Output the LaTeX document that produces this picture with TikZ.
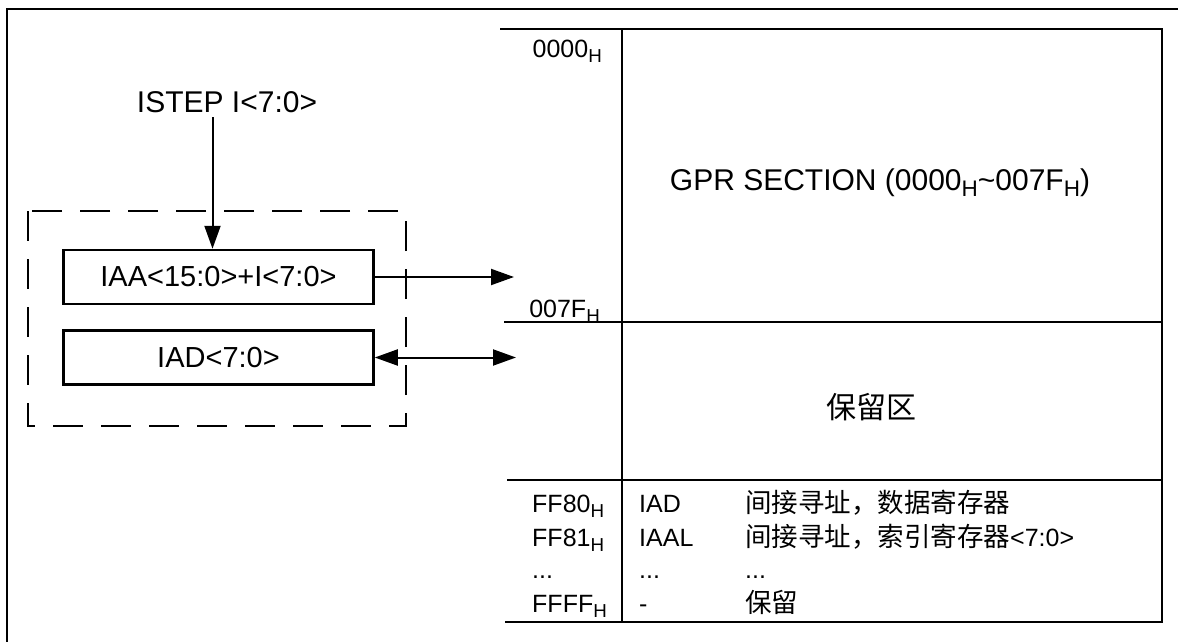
\documentclass[tikz,border=0pt]{standalone}
\usepackage{fontspec}
\setmainfont{Liberation Sans}
\newfontfamily\cjk{Noto Sans CJK SC}
\usetikzlibrary{arrows.meta}
\makeatletter
\newcommand{\hsub}[1]{#1\raisebox{-0.2em}{\fontsize{\fpeval{0.75*\f@size}}{0}\selectfont H}}
\makeatother

\tikzset{
  mapline/.style={line width=2pt},
  bigtext/.style={font=\fontsize{30}{36}\selectfont, inner sep=0pt},
  maplabel/.style={font=\fontsize{25}{30}\selectfont, inner sep=0pt, anchor=base east},
  rowtext/.style={font=\fontsize{25}{30}\selectfont, inner sep=0pt, anchor=base west},
  cjkrow/.style={font=\cjk\fontsize{26.5}{30}\selectfont},
  regbox/.style={draw, line width=2.5pt, minimum width=310pt, minimum height=54pt, font=\fontsize{29}{35}\selectfont},
  groupline/.style={line width=2pt, dash pattern=on 30pt off 18pt},
  sig/.style={line width=2pt, -{Triangle[length=23pt, width=16pt]}},
  dsig/.style={line width=2pt, {Triangle[length=23pt, width=16pt]}-{Triangle[length=23pt, width=16pt]}}
}

\begin{document}
\begin{tikzpicture}[x=1pt, y=-1pt]
    \useasboundingbox (0,0) rectangle (1178,642);

    % outer frame
    \draw[line width=2.6pt] (7,642) -- (7,9) -- (1178,9);

    % memory map
    \draw[mapline] (500,29) -- (1162,29) -- (1162,622) -- (505,622);
    \draw[mapline] (622,29) -- (622,622);
    \draw[mapline] (504,322) -- (1162,322);
    \draw[mapline] (507,480) -- (1162,480);

    \node[maplabel] (addrtop) at (602,58) {\hsub{0000}};
    \node[maplabel] (addrgpr) at (600,317) {\hsub{007F}};
    \node[bigtext] (gpr) at (880,183) {GPR SECTION (\hsub{0000}\textasciitilde\hsub{007F})};
    \node[bigtext, font=\cjk\fontsize{30}{36}\selectfont] (rsv) at (871,407) {保留区};

    % SFR rows
    \node[rowtext] (addr1) at (532,512) {\hsub{FF80}};
    \node[rowtext] (name1) at (639,512) {IAD};
    \node[rowtext, cjkrow] (desc1) at (745,512) {间接寻址，数据寄存器};

    \node[rowtext] (addr2) at (532,546) {\hsub{FF81}};
    \node[rowtext] (name2) at (639,546) {IAAL};
    \node[rowtext] (desc2) at (745,546) {{\cjk\fontsize{26.5}{30}\selectfont 间接寻址，索引寄存器}<7:0>};

    \node[rowtext] (addr3) at (532,578) {...};
    \node[rowtext] (name3) at (639,578) {...};
    \node[rowtext] (desc3) at (745,578) {...};

    \node[rowtext] (addr4) at (532,612) {\hsub{FFFF}};
    \node[rowtext] (name4) at (639,612) {-};
    \node[rowtext, cjkrow] (desc4) at (745,612) {保留};

    % indirect addressing unit
    \node[bigtext, anchor=base, inner sep=5pt] (istep) at (227,112) {ISTEP I<7:0>};
    \draw[groupline] (28,211) rectangle (406,426);
    \node[regbox] (iaa) at (218.5,277) {IAA<15:0>+I<7:0>};
    \node[regbox] (iad) at (218.5,357.5) {IAD<7:0>};

    \coordinate (gprin) at (514,277);
    \coordinate (rsvin) at (516,357.5);

    \draw[sig] ([xshift=-6pt]istep.south -| iaa.north) -- ([xshift=-6pt]iaa.north);
    \draw[sig] (iaa.east) -- (gprin);
    \draw[dsig] (iad.east) -- (rsvin);
\end{tikzpicture}
\end{document}
